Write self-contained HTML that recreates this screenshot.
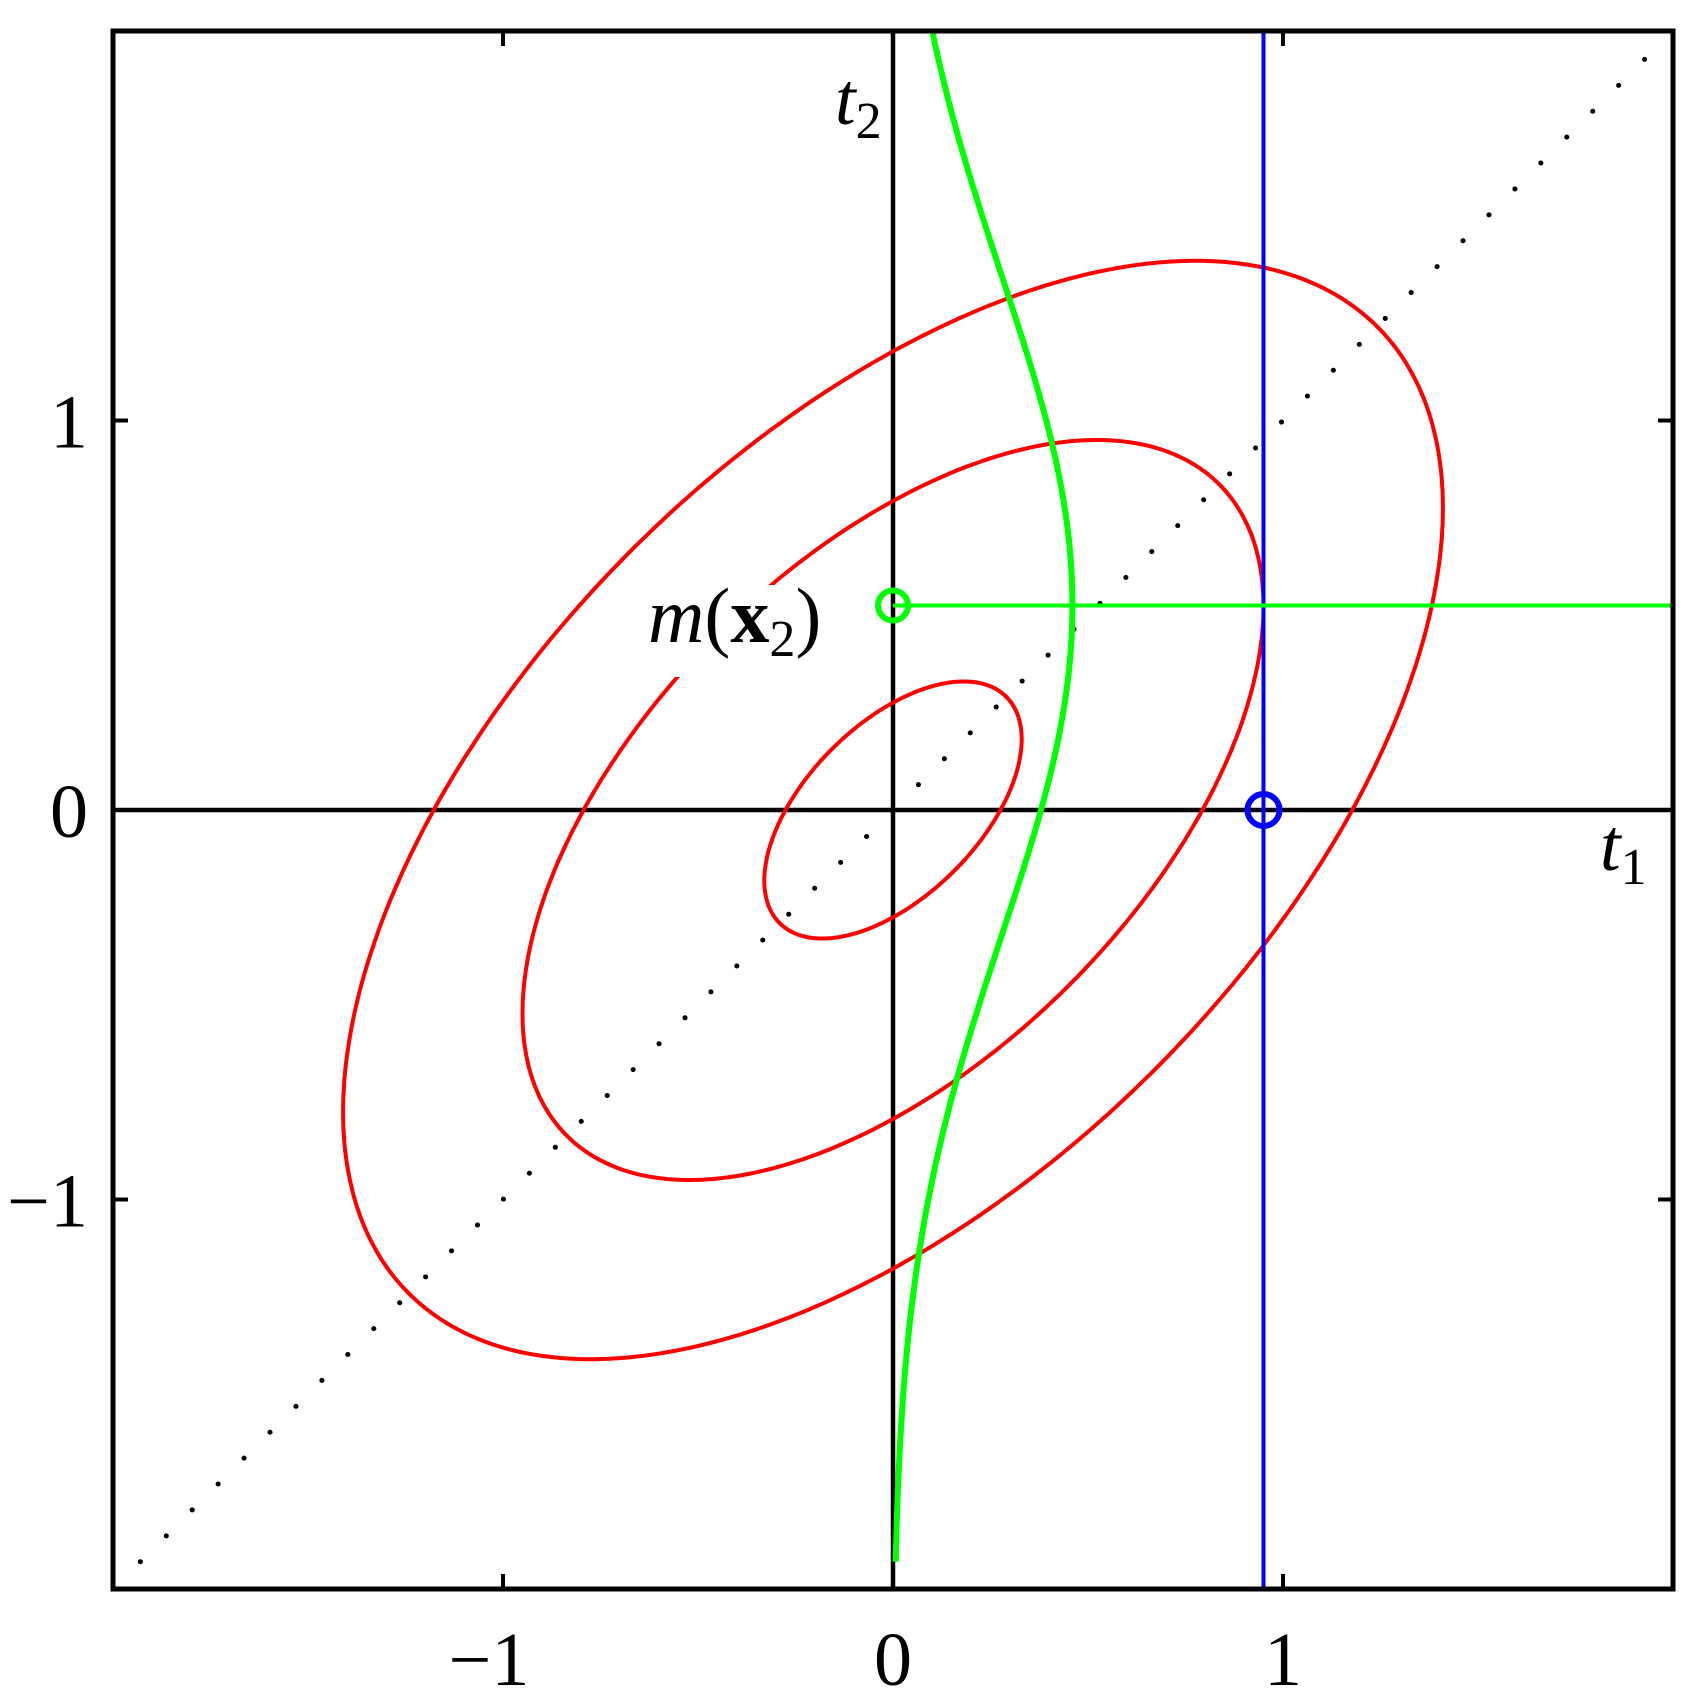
<!DOCTYPE html>
<html><head><meta charset="utf-8"><style>html,body{margin:0;padding:0;background:#fff}svg{display:block}</style></head>
<body>
<svg id="chart" width="1700" height="1692" viewBox="0 0 1700 1692" xmlns="http://www.w3.org/2000/svg">
<rect x="0" y="0" width="1700" height="1692" fill="#fff"/>
<g id="marks"></g>
<rect x="640" y="585" width="215" height="92" fill="#fff"/>
<text x="648" y="642" font-family="Liberation Serif, serif" font-size="78"><tspan font-style="italic">m</tspan>(<tspan font-weight="bold">x</tspan><tspan font-size="52" dy="14">2</tspan><tspan dy="-14">)</tspan></text>
<g id="topLayer"></g>
<text x="835" y="124" font-family="Liberation Serif, serif" font-size="74" font-style="italic">t<tspan font-size="52" font-style="normal" dy="14">2</tspan></text>
<text x="1600" y="870" font-family="Liberation Serif, serif" font-size="74" font-style="italic">t<tspan font-size="52" font-style="normal" dy="14">1</tspan></text>
</svg>
<script>
const xTicks = [-1, 0, 1];
const yTicks = [-1, 0, 1];
const tickLabels = ["\u22121", "0", "1"];
const rho = [0.55];
const contourRadii = [0.33, 0.95, 1.41];
const observedT1 = [0.95];
const condMean = [0.525];
const condVar = [0.716];
const densityPeak = [0.46];

const L=113,R=1673,T=31,B=1589;
const sx=v=>L+(v+2)/4*(R-L);
const sy=v=>B-(v+2)/4*(B-T);
const NS='http://www.w3.org/2000/svg';
const marks=document.getElementById('marks');
const topLayer=document.getElementById('topLayer');
function mk(tag,attrs,parent){const el=document.createElementNS(NS,tag);for(const k in attrs)el.setAttribute(k,attrs[k]);(parent||marks).appendChild(el);return el;}

let e=mk('line',{x1:sx(0),y1:T,x2:sx(0),y2:B,stroke:'#000','stroke-width':4.5});


e=mk('line',{x1:L,y1:sy(0),x2:R,y2:sy(0),stroke:'#000','stroke-width':4.5});



let dots='';
for(let v=-1.93;v<=1.99;v+=0.0665){dots+='M'+sx(v)+' '+sy(v)+'h0.1';}
e=mk('path',{d:dots,stroke:'#000','stroke-width':5,'stroke-linecap':'round',fill:'none'});



const r=rho[0];
contourRadii.forEach(function(c,i){
  let d='';
  for(let k=0;k<=360;k++){
    const a=k*Math.PI/180;
    const u=Math.cos(a), w=Math.sin(a);
    const x=c*u, y=c*(r*u+Math.sqrt(1-r*r)*w);
    d+=(k?'L':'M')+sx(x).toFixed(1)+' '+sy(y).toFixed(1);
  }
  const p=mk('path',{d:d+'Z',stroke:'#ff0000','stroke-width':4,fill:'none'});
  
  
});

e=mk('line',{x1:sx(observedT1[0]),y1:T,x2:sx(observedT1[0]),y2:B,stroke:'#0000ff','stroke-width':4});



e=mk('line',{x1:sx(0),y1:sy(condMean[0]),x2:R,y2:sy(condMean[0]),stroke:'#00ff00','stroke-width':4});



let gd='';
for(let k=0;k<=400;k++){
  const y=-1.93+k*(3.93/400);
  const x=densityPeak[0]*Math.exp(-Math.pow(y-condMean[0],2)/(2*condVar[0]));
  gd+=(k?'L':'M')+sx(x).toFixed(1)+' '+sy(y).toFixed(1);
}
e=mk('path',{d:gd,stroke:'#00ff00','stroke-width':6,fill:'none'});



e=mk('circle',{cx:sx(0),cy:sy(condMean[0]),r:15,stroke:'#00ff00','stroke-width':6,fill:'none'},topLayer);


e=mk('circle',{cx:sx(observedT1[0]),cy:sy(0),r:16,stroke:'#0000ff','stroke-width':6,fill:'none'},topLayer);



e=mk('rect',{x:L,y:T,width:R-L,height:B-T,fill:'none',stroke:'#000','stroke-width':5},topLayer);



xTicks.forEach(function(v,i){
  const t=mk('path',{d:'M'+sx(v)+' '+B+'v-15M'+sx(v)+' '+T+'v15',stroke:'#000','stroke-width':4},topLayer);
  
  
  const tx=mk('text',{x:sx(v)-(v<0?14:0),y:1685,'text-anchor':'middle','font-family':'Liberation Serif, serif','font-size':76},topLayer);
  tx.textContent=tickLabels[i];
  
  
});
yTicks.forEach(function(v,i){
  const t=mk('path',{d:'M'+L+' '+sy(v)+'h15M'+R+' '+sy(v)+'h-15',stroke:'#000','stroke-width':4},topLayer);
  
  
  const tx=mk('text',{x:88,y:sy(v)+27,'text-anchor':'end','font-family':'Liberation Serif, serif','font-size':76},topLayer);
  tx.textContent=tickLabels[i];
  
  
});
</script>
</body></html>
